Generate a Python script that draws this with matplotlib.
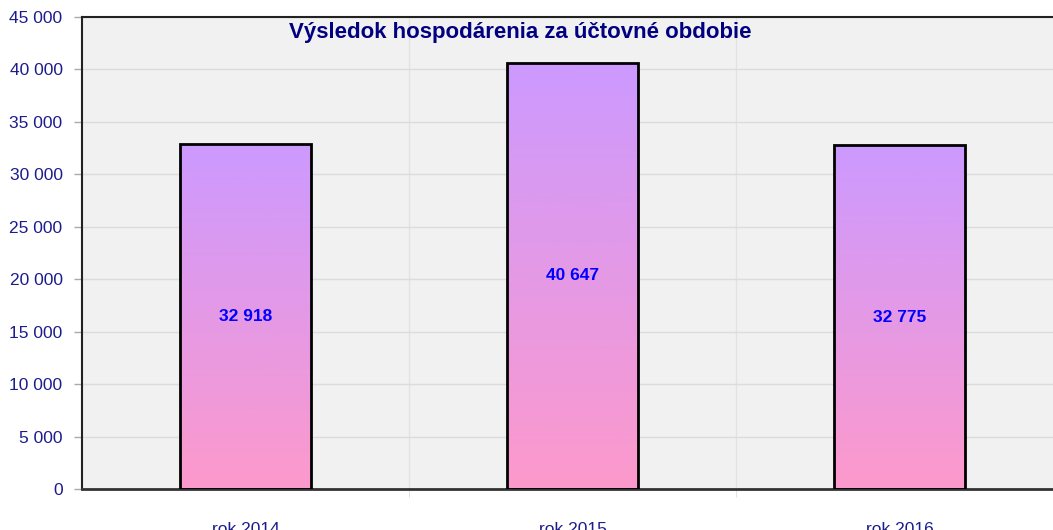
import numpy as np
import matplotlib.pyplot as plt
from matplotlib.colors import LinearSegmentedColormap
from matplotlib.ticker import FuncFormatter, MultipleLocator

plt.rcParams['font.family'] = ['Liberation Sans', 'DejaVu Sans']

# -----------------------------------
# Data
# -----------------------------------
categories = ["rok 2014", "rok 2015", "rok 2016"]
values = [32918, 40647, 32775]
title = "Výsledok hospodárenia za účtovné obdobie"

navy = "#1c1c8c"


def fmt_thousands(v, pos=None):
    return f"{int(v):,}".replace(",", " ")


fig = plt.figure(figsize=(10.53, 5.30), dpi=100)
ax = fig.add_axes([0.0779, 0.0774, 0.9316, 0.8906])
ax.set_facecolor("#f1f1f1")

x = np.arange(len(categories))
bars = ax.bar(x, values, width=0.4, color="none", edgecolor="black",
              linewidth=2, zorder=3)

# gradient fill clipped to each bar
cmap = LinearSegmentedColormap.from_list("pp", ["#fd99cc", "#cc99ff"])
grad = np.linspace(0, 1, 256).reshape(-1, 1)
for b in bars:
    x0, y0 = b.get_x(), b.get_y()
    w, h = b.get_width(), b.get_height()
    im = ax.imshow(grad, cmap=cmap, origin="lower", aspect="auto",
                   extent=[x0, x0 + w, y0, y0 + h], zorder=2)
    im.set_clip_path(b)

for xi, v in zip(x, values):
    ax.text(xi, v / 2, fmt_thousands(v), ha="center", va="center",
            color="#0000ff", fontsize=12.5, fontweight="bold", zorder=4)

ax.set_xlim(-0.5, 2.5)
ax.set_ylim(0, 45000)

ax.yaxis.set_major_locator(MultipleLocator(5000))
ax.yaxis.set_major_formatter(FuncFormatter(fmt_thousands))
ax.set_xticks(x)
ax.set_xticklabels(categories)
ax.set_xticks([0.5, 1.5], minor=True)

ax.tick_params(axis="y", colors="#aaaaaa", labelcolor=navy, labelsize=12.5,
               length=6, width=1, pad=8)
ax.tick_params(axis="x", which="major", length=0, labelcolor=navy,
               labelsize=12.5, pad=24)
ax.tick_params(axis="x", which="minor", length=6, color="#dddddd")

ax.grid(axis="y", color="#dcdcdc", linewidth=1, zorder=0)
ax.grid(axis="x", which="minor", color="#e2e2e2", linewidth=1, zorder=0)
ax.set_axisbelow(True)

ax.spines["left"].set_color("#222222")
ax.spines["left"].set_linewidth(1.5)
ax.spines["top"].set_color("#222222")
ax.spines["top"].set_linewidth(1.5)
ax.spines["bottom"].set_color("#333333")
ax.spines["bottom"].set_linewidth(2)
ax.spines["right"].set_visible(False)

ax.text(0.4465, 0.99, title, transform=ax.transAxes, ha="center", va="top",
        color="#000080", fontsize=16, fontweight="bold", zorder=5)

fig.savefig("out.png", dpi=100)
